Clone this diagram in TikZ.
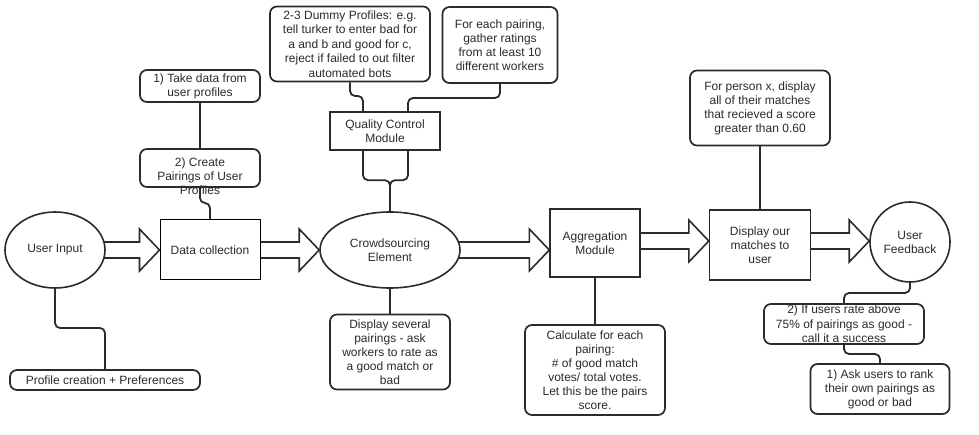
\documentclass[tikz,border=0pt]{standalone}
\usepackage{fontspec}
\setmainfont{Liberation Sans}
\usetikzlibrary{shapes.geometric,calc,backgrounds}
\definecolor{ink}{HTML}{2B2B2B}
\tikzset{
  base/.style={draw=ink, fill=white, text=ink, inner sep=0pt, align=center,
    font=\fontsize{12}{14}\selectfont},
  rbox/.style={base, rectangle, rounded corners=7pt, line width=1.7pt},
  sbox/.style={base, rectangle, line width=1.4pt},
  ebox/.style={base, ellipse, line width=1.6pt},
  conn/.style={draw=ink, line width=1.8pt, rounded corners=5pt},
  hollow/.style={draw=ink, line width=1.6pt, line join=miter, fill=white},
}
\newcommand\harrow[3]{%
  \path ($(#2.west)+(0,#3)$) coordinate (tip)
        ($(tip)+(-20,-8)$) coordinate (a1)
        ($(tip)+(-20,-21)$) coordinate (a2)
        ($(tip)+(-20,21)$) coordinate (a3)
        ($(tip)+(-20,8)$) coordinate (a4);
  \draw[hollow] (#1 |- a1) -- (a1) -- (a2) -- (tip) -- (a3) -- (a4) -- (#1 |- a4);
}
\begin{document}
\begin{tikzpicture}[x=1pt,y=-1pt]
\useasboundingbox (0,0) rectangle (979,435);
% main flow
\node[ebox, minimum width=100pt, minimum height=76pt] (ui) at (55,250) {User Input};
\node[sbox, line width=1pt, draw=black, minimum width=100pt, minimum height=60pt] (dc) at (210,250) {Data collection};
\node[ebox, minimum width=140pt, minimum height=76pt] (cs) at (390,250) {Crowdsourcing\\Element};
\node[sbox, minimum width=90pt, minimum height=68pt] (ag) at (595,243) {Aggregation\\Module};
\node[sbox, minimum width=101pt, minimum height=70pt] (dm) at (760,245) {Display our\\matches to\\user};
\node[base, circle, line width=1.6pt, minimum size=80pt] (uf) at (910,242) {User\\Feedback};
% side boxes
\node[rbox, minimum width=120pt, minimum height=32pt] (td) at (200,86) {1) Take data from\\user profiles};
\node[rbox, minimum width=120pt, minimum height=38pt,
  label={[text=ink, align=center, font=\fontsize{12}{14}\selectfont, yshift=-8pt]center:2) Create\\Pairings of User\\Profiles}] (cp) at (200,168) {};
\node[rbox, minimum width=190pt, minimum height=20pt] (pc) at (105,380) {Profile creation + Preferences};
\node[sbox, minimum width=110pt, minimum height=38pt] (qc) at (385,131) {Quality Control\\Module};
\node[rbox, minimum width=160pt, minimum height=75pt, font=\fontsize{12}{14.4}\selectfont] (dp) at (350,44) {2-3 Dummy Profiles: e.g.\\tell turker to enter bad for\\a and b and good for c,\\reject if failed to out filter\\automated bots};
\node[rbox, minimum width=115pt, minimum height=76pt] (fe) at (500,45) {For each pairing,\\gather ratings\\from at least 10\\different workers};
\node[rbox, minimum width=120pt, minimum height=75pt] (ds) at (390,352) {Display several\\pairings - ask\\workers to rate as\\a good match or\\bad};
\node[rbox, minimum width=140pt, minimum height=90pt] (cf) at (595,370) {Calculate for each\\pairing:\\\# of good match\\votes/ total votes.\\Let this be the pairs\\score.};
\node[rbox, minimum width=140pt, minimum height=75pt] (px) at (760,108) {For person x, display\\all of their matches\\that recieved a score\\greater than 0.60};
\node[rbox, minimum width=160pt, minimum height=40pt, font=\fontsize{12}{14.5}\selectfont] (ra) at (844,324) {2) If users rate above\\75\% of pairings as good -\\call it a success};
\node[rbox, minimum width=139pt, minimum height=50pt] (ak) at (880,389) {1) Ask users to rank\\their own pairings as\\good or bad};
% connectors and hollow arrows behind the shapes
\begin{scope}[on background layer]
  \fill[white] (0,0) rectangle (979,435);
  \harrow{ui}{dc}{0}
  \harrow{dc}{cs}{0}
  \harrow{cs}{ag}{7}
  \harrow{ag}{dm}{-4}
  \harrow{dm}{uf}{-1}
  \draw[conn] (td.south) -- (cp.north);
  \draw[conn] (cp.south) -- (cp.south |- 0,203) -| (dc.north);
  \draw[conn] (ui.south) -- (ui.south |- 0,328) -| (pc.north);
  \draw[conn] (dp.south) -- (dp.south |- 0,96) -| ($(qc.north)+(-22,0)$);
  \draw[conn] (fe.south) -- (fe.south |- 0,98) -| ($(qc.north)+(23,0)$);
  \draw[conn] ($(qc.south)+(-22,0)$) |- ($(cs.north)+(0,-31)$) -- (cs.north);
  \draw[conn] ($(qc.south)+(23,0)$) |- ($(cs.north)+(0,-31)$) -- (cs.north);
  \draw[conn] (cs.south) -- (ds.north);
  \draw[conn] (ag.south) -- (cf.north);
  \draw[conn] (px.south) -- (dm.north);
  \draw[conn] (uf.south) -- (uf.south |- 0,293) -| (ra.north);
  \draw[conn] (ra.south) -- (ra.south |- 0,354) -| (ak.north);
\end{scope}
\end{tikzpicture}
\end{document}
